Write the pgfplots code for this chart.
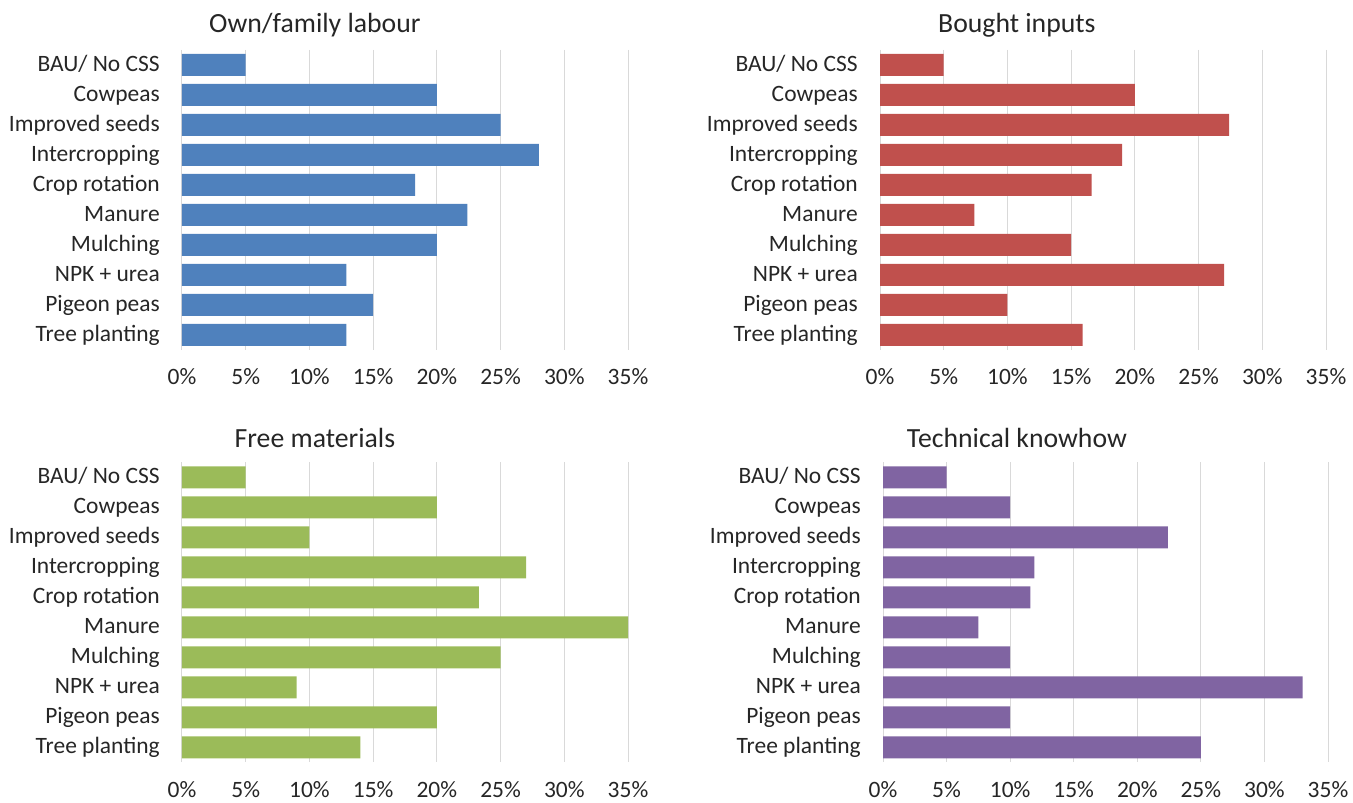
\documentclass[border=0pt]{standalone}
\usepackage{pgfplots}
\pgfplotsset{compat=1.18}
\usepackage{fontspec}
\setmainfont{Carlito}
\definecolor{cblue}{HTML}{4F81BD}
\definecolor{cred}{HTML}{C0504D}
\definecolor{cgreen}{HTML}{9BBB59}
\definecolor{cpurple}{HTML}{8064A2}
\pgfplotsset{panel/.style={
  scale only axis, width=334.5pt, height=225pt, xbar, bar width=16.5pt,
  xmin=0, xmax=35, ymin=-0.5, ymax=9.5, y dir=reverse,
  xtick={0,5,...,35}, xticklabels={0\%,5\%,10\%,15\%,20\%,25\%,30\%,35\%},
  ytick={0,...,9},
  yticklabels={BAU/ No CSS, Cowpeas, Improved seeds, Intercropping, Crop rotation, Manure, Mulching, NPK + urea, Pigeon peas, Tree planting},
  xmajorgrids, grid style={draw=black!15, line width=0.75pt},
  axis line style={draw=none}, major tick length=0pt,
  tick label style={font=\fontsize{17.6}{20}\selectfont, text=black!85},
  x tick label style={anchor=center, yshift=-22.8pt, text height=0.66em, text depth=0pt},
  y tick label style={anchor=east, inner sep=0pt, xshift=-16.5pt, yshift=-2.5pt, text height=0.66em, text depth=0.2em},
  /pgf/number format/assume math mode=true,
  title style={font=\fontsize{20.8}{24}\selectfont, anchor=center, text=black!85},
  clip=false,
}}
\begin{document}
\begin{tikzpicture}
\path[use as bounding box] (0pt,0pt) rectangle (1014.75pt,602.25pt);
% Top-left
\begin{axis}[panel, at={(136.5pt,339.75pt)}, anchor=south west,
  title={Own/family labour}, title style={at={(axis description cs:0.298,1.055)}}]
\addplot[fill=cblue, draw=none] coordinates {(5,0) (20,1) (25,2) (28,3) (18.3,4) (22.4,5) (20,6) (12.9,7) (15,8) (12.9,9)};
\end{axis}
% Top-right
\begin{axis}[panel, at={(660pt,339.75pt)}, anchor=south west,
  title={Bought inputs}, title style={at={(axis description cs:0.307,1.055)}}]
\addplot[fill=cred, draw=none] coordinates {(5,0) (20,1) (27.4,2) (19,3) (16.6,4) (7.4,5) (15,6) (27,7) (10,8) (15.9,9)};
\end{axis}
% Bottom-left
\begin{axis}[panel, at={(136.5pt,30.5pt)}, anchor=south west,
  title={Free materials}, title style={at={(axis description cs:0.298,1.055)}}]
\addplot[fill=cgreen, draw=none] coordinates {(5,0) (20,1) (10,2) (27,3) (23.3,4) (35,5) (25,6) (9,7) (20,8) (14,9)};
\end{axis}
% Bottom-right
\begin{axis}[panel, width=333.75pt, at={(662.25pt,30.5pt)}, anchor=south west,
  title={Technical knowhow}, title style={at={(axis description cs:0.301,1.055)}}]
\addplot[fill=cpurple, draw=none] coordinates {(5,0) (10,1) (22.4,2) (11.9,3) (11.6,4) (7.5,5) (10,6) (33,7) (10,8) (25,9)};
\end{axis}
\end{tikzpicture}
\end{document}
